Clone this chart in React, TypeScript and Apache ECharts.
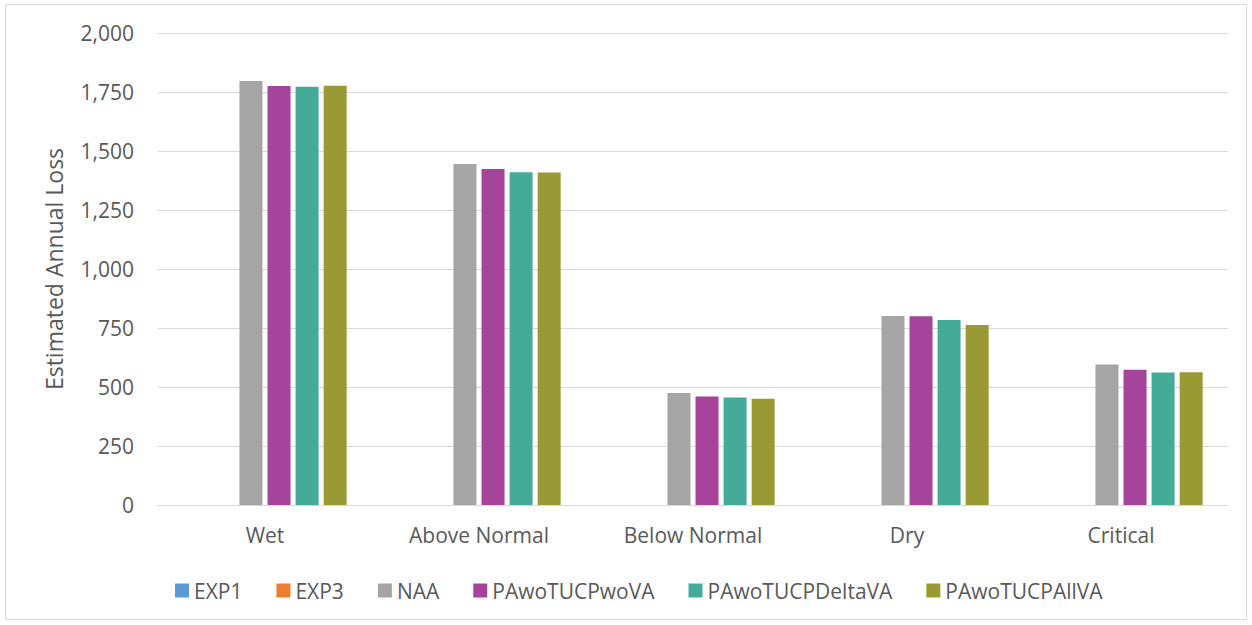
import React, { useEffect, useRef } from "react";
import * as echarts from "echarts";

const categories = ["Wet", "Above Normal", "Below Normal", "Dry", "Critical"];
const seriesNames = ["EXP1", "EXP3", "NAA", "PAwoTUCPwoVA", "PAwoTUCPDeltaVA", "PAwoTUCPAllVA"];
const exp1: (number | string)[] = ["-", "-", "-", "-", "-"];
const exp3: (number | string)[] = ["-", "-", "-", "-", "-"];
const naa = [1797, 1445, 475, 801, 595];
const woVA = [1775, 1424, 460, 800, 573];
const deltaVA = [1772, 1410, 456, 784, 561];
const allVA = [1777, 1409, 450, 763, 563];
const colors = ["#5B9BD5", "#ED7D31", "#A5A5A5", "#A6449B", "#45AB99", "#9A9A35"];

export default function App() {
  const ref = useRef<HTMLDivElement>(null);
  useEffect(() => {
    if (!ref.current) return;
    const chart = echarts.init(ref.current, null, { renderer: "svg" });
    const font = "Open Sans";
    const datas = [exp1, exp3, naa, woVA, deltaVA, allVA];
    chart.setOption({
      animation: false,
      textStyle: { fontFamily: font },
      graphic: [
        {
          type: "rect",
          shape: { x: 5.5, y: 4.5, width: 1241, height: 615 },
          style: { fill: "none", stroke: "#D9D9D9", lineWidth: 1 },
          silent: true,
        },
      ],
      grid: { left: 158, right: 24, top: 33, bottom: 120 },
      legend: {
        bottom: 19,
        left: 170,
        itemWidth: 14,
        itemHeight: 14,
        itemGap: 34,
        icon: "rect",
        textStyle: { fontSize: 21, color: "#595959", fontFamily: font },
        data: seriesNames,
      },
      xAxis: {
        type: "category",
        data: categories,
        axisLine: { lineStyle: { color: "#D9D9D9" } },
        axisTick: { show: false },
        axisLabel: { fontSize: 21, color: "#595959", margin: 19, fontFamily: font },
      },
      yAxis: {
        type: "value",
        min: 0,
        max: 2000,
        interval: 250,
        name: "Estimated Annual Loss",
        nameLocation: "middle",
        nameGap: 93,
        nameTextStyle: { fontSize: 23, color: "#595959", fontFamily: font },
        axisLabel: {
          fontSize: 21,
          color: "#595959",
          margin: 24,
          fontFamily: font,
          formatter: (v: number) => v.toLocaleString("en-US"),
        },
        splitLine: { lineStyle: { color: "#D9D9D9" } },
        axisLine: { show: false },
        axisTick: { show: false },
      },
      series: seriesNames.map((n, i) => ({
        name: n,
        type: "bar",
        data: datas[i],
        barWidth: 23,
        barGap: "22%",
        itemStyle: { color: colors[i] },
      })),
    });
    return () => chart.dispose();
  }, []);
  return <div ref={ref} style={{ width: 1252, height: 625, position: "absolute", left: 0, top: 0 }} />;
}
